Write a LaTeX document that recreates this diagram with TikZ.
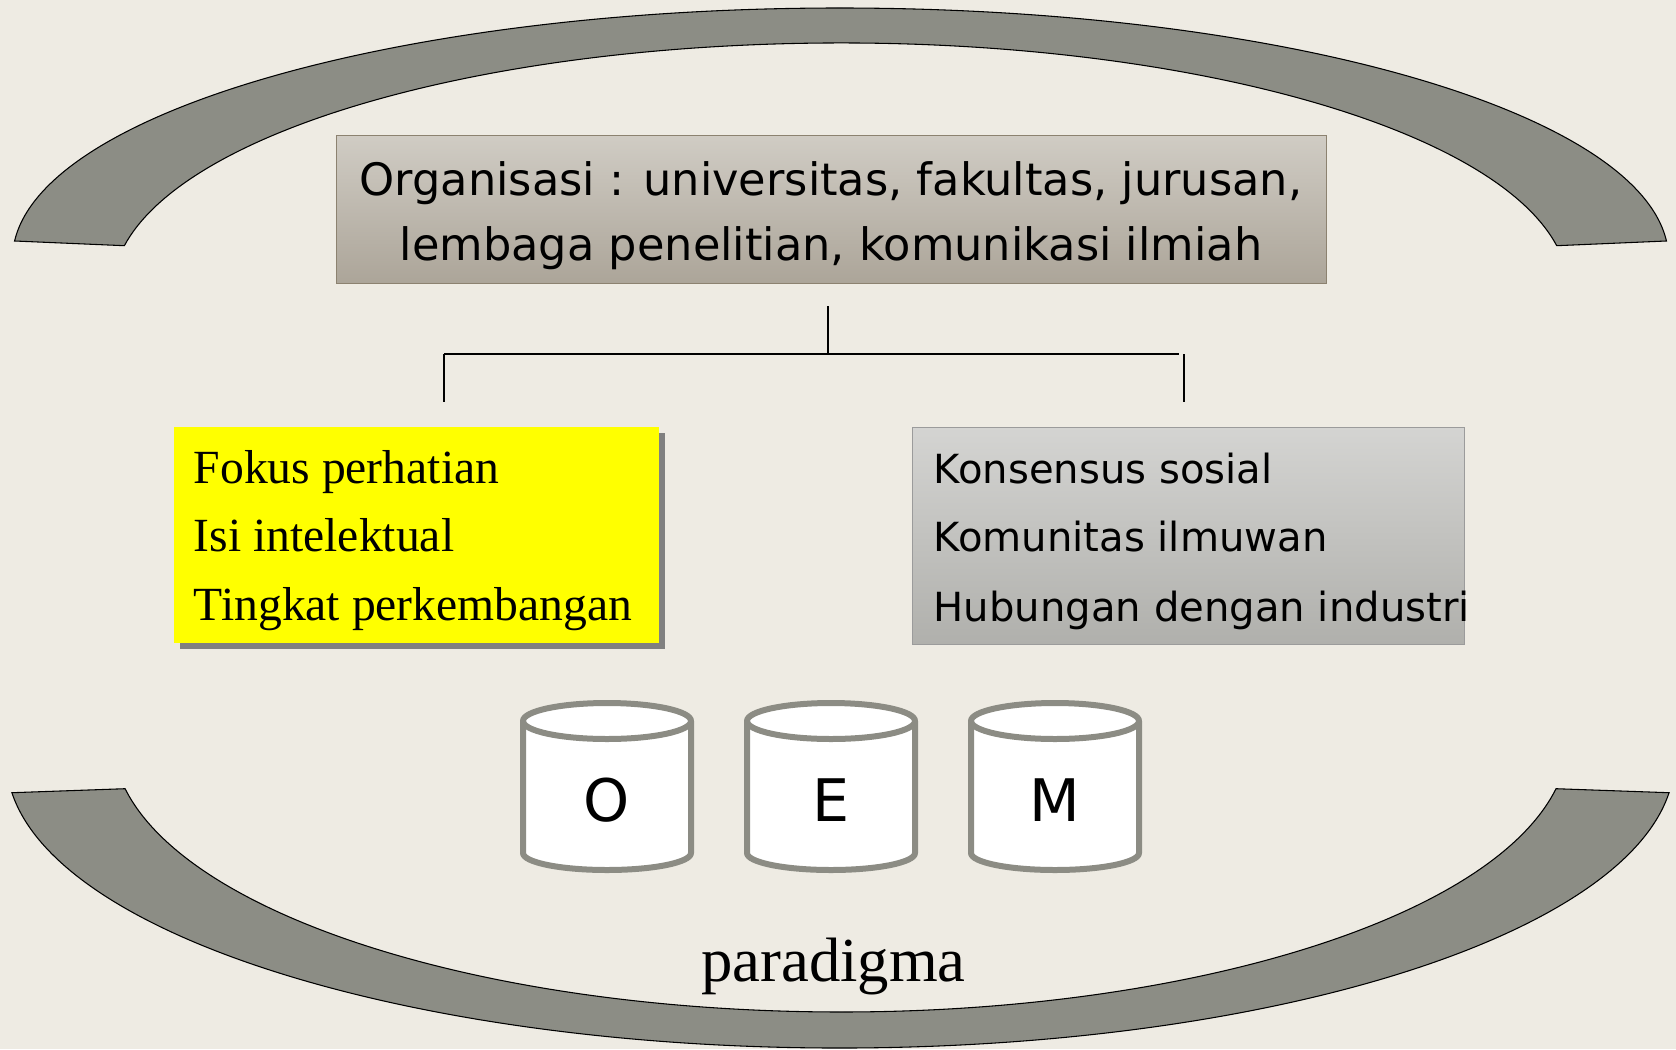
\documentclass[tikz,border=0pt]{standalone}
\usepackage{fontspec}
\setmainfont{Liberation Serif}
\newfontfamily\tah{DejaVu Sans}
\definecolor{bg}{RGB}{238,235,227}
\definecolor{arcfill}{RGB}{140,141,133}
\definecolor{cylgray}{RGB}{140,140,132}
\definecolor{orgtop}{RGB}{208,204,196}
\definecolor{orgbot}{RGB}{172,165,153}
\definecolor{orgline}{RGB}{140,130,112}
\definecolor{graytop}{RGB}{212,212,210}
\definecolor{graybot}{RGB}{176,176,172}
\definecolor{grayline}{RGB}{155,155,155}
\definecolor{shadowgray}{RGB}{128,128,128}
\definecolor{pureyellow}{RGB}{255,255,0}
\tikzset{
  blockarc/.style={fill=arcfill, draw=black, line width=0.8pt},
  orgbox/.style={draw=orgline, line width=0.75pt, top color=orgtop, bottom color=orgbot,
    minimum width=742.5pt, minimum height=111pt, inner sep=0pt},
  orgline/.style={anchor=base, inner sep=0pt, font=\tah\fontsize{33.5}{40}\selectfont},
  yelbox/.style={fill=pureyellow, inner sep=0pt, minimum width=363.75pt, minimum height=162pt},
  graybox/.style={draw=grayline, line width=0.75pt, top color=graytop, bottom color=graybot,
    inner sep=0pt, minimum width=414pt, minimum height=162.75pt},
  serifitem/.style={anchor=base west, inner sep=0pt, font=\fontsize{35.7}{40}\selectfont},
  sansitem/.style={anchor=base west, inner sep=0pt, font=\tah\fontsize{30.1}{36}\selectfont},
  conn/.style={line width=1.2pt, draw=black},
  cylline/.style={draw=cylgray, line width=4.5pt, line join=round},
  cylletter/.style={font=\tah\fontsize{44}{50}\selectfont, inner sep=0pt},
  oemcyl/.pic={
    \fill[white] (-84,0) -- (-84,132) arc[start angle=180, end angle=0, x radius=84, y radius=17]
      -- (84,0) arc[start angle=0, end angle=-180, x radius=84, y radius=18] -- cycle;
    \draw[cylline] (-84,0) -- (-84,132) arc[start angle=180, end angle=0, x radius=84, y radius=17] -- (84,0);
    \draw[cylline] (0,0) ellipse[x radius=84, y radius=18];
  }
}
\begin{document}
\begin{tikzpicture}[x=0.75pt,y=-0.75pt]
\useasboundingbox (0,0) rectangle (1676,1049);
\fill[bg] (0,0) rectangle (1676,1049);

% block arcs
\draw[blockarc] (14.6,241) arc[start angle=184.05, end angle=355.95, x radius=828, y radius=250.7]
  -- (1556.7,245.7) arc[start angle=349.67, end angle=190.33, x radius=728, y radius=247] -- cycle;
\draw[blockarc] (11.9,792.7) arc[start angle=173.48, end angle=6.52, x radius=834, y radius=288]
  -- (1556,788.7) arc[start angle=10.64, end angle=169.36, x radius=728, y radius=273.8] -- cycle;

% top box
\node[orgbox] (org) at (831,209) {};
\node[orgline] (org1) at (831,195) {Organisasi : universitas, fakultas, jurusan,};
\node[orgline] (org2) at (831,260) {lembaga penelitian, komunikasi ilmiah};

% connectors
\coordinate (stemtop) at (828,306);
\coordinate (junction) at (828,354);
\coordinate (hl) at (444,354);
\coordinate (hr) at (1179,354);
\coordinate (dl) at (444,402);
\coordinate (rt) at (1184,354);
\coordinate (dr) at (1184,402);
\draw[conn] (stemtop) -- (junction);
\draw[conn] (hl) -- (hr);
\draw[conn] (hl) -- (dl);
\draw[conn] (rt) -- (dr);

% yellow box with shadow
\fill[shadowgray] (180,433) rectangle (665,649);
\node[yelbox] (yb) at (416.5,535) {};
\node[serifitem] (y1) at (193.5,483.3) {Fokus perhatian};
\node[serifitem] (y2) at (193.5,551.7) {Isi intelektual};
\node[serifitem] (y3) at (193.5,620.5) {Tingkat perkembangan};

% gray box
\node[graybox] (gb) at (1188,535.5) {};
\node[sansitem] (g1) at (933.5,483.3) {Konsensus sosial};
\node[sansitem] (g2) at (933.5,551.7) {Komunitas ilmuwan};
\node[sansitem] (g3) at (933.5,621.5) {Hubungan dengan industri};

% cylinders
\pic at (607,721) {oemcyl};
\pic at (831,721) {oemcyl};
\pic at (1055,721) {oemcyl};
\node[cylletter] (cO) at (607,800) {O};
\node[cylletter] (cE) at (831,800) {E};
\node[cylletter] (cM) at (1055,800) {M};

% label
\node[anchor=base, inner sep=0pt, font=\fontsize{47}{52}\selectfont] (par) at (833.5,981) {paradigma};
\end{tikzpicture}
\end{document}
